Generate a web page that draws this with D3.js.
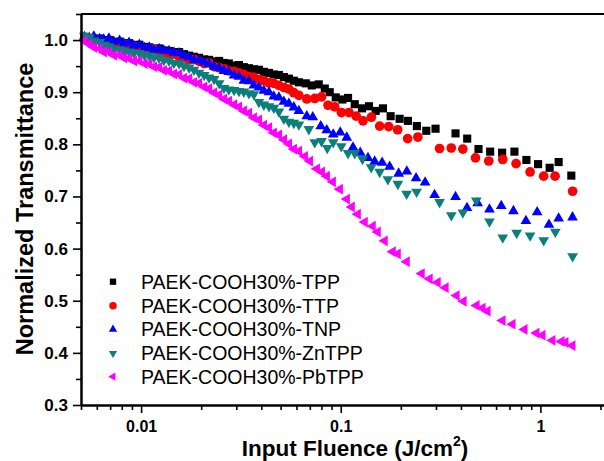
<!DOCTYPE html>
<html>
<head>
<meta charset="utf-8">
<script src="https://cdn.jsdelivr.net/npm/d3@7/dist/d3.min.js"></script>
<style>
  html, body { margin: 0; padding: 0; background: #fff; }
  svg { display: block; }
  text { font-family: Arial, "Liberation Sans", sans-serif; }
</style>
</head>
<body>
<svg id="chart" width="604" height="461"></svg>
<script>
// ---------- DATA ----------
const seriesNames = ["PAEK-COOH30%-TPP", "PAEK-COOH30%-TTP", "PAEK-COOH30%-TNP", "PAEK-COOH30%-ZnTPP", "PAEK-COOH30%-PbTPP"];
const seriesColors = ["#000000", "#ff0000", "#0000ff", "#0d7f7a", "#ff00ff"];

const xMajorTicks = [0.01, 0.1, 1];
const xTickLabels = ["0.01", "0.1", "1"];
const yMajorTicks = [0.3, 0.4, 0.5, 0.6, 0.7, 0.8, 0.9, 1.0];
const yTickLabels = ["0.3", "0.4", "0.5", "0.6", "0.7", "0.8", "0.9", "1.0"];

// low-fluence region (shared fluence values, J/cm2)
const fluenceLow = [0.0052, 0.0055, 0.0058, 0.0062, 0.0065, 0.0069, 0.0073, 0.0078, 0.0082, 0.0087,
  0.0092, 0.0098, 0.0104, 0.0110, 0.0116, 0.0123, 0.0130, 0.0138, 0.0146, 0.0155,
  0.0164, 0.0174, 0.0184, 0.0195, 0.0207, 0.0219, 0.0232, 0.0246, 0.0260, 0.0275,
  0.0292, 0.0309, 0.0327, 0.0347, 0.0367, 0.0389, 0.0412, 0.0437, 0.0462, 0.0490,
  0.0519, 0.0550, 0.0582, 0.0617];

const tppLow = [1.006, 1.004, 1.002, 1.003, 0.999, 1.000, 0.996, 0.997, 0.993, 0.994,
  0.990, 0.991, 0.987, 0.986, 0.983, 0.984, 0.980, 0.979, 0.976, 0.977,
  0.973, 0.970, 0.968, 0.966, 0.963, 0.962, 0.959, 0.960, 0.956, 0.955,
  0.951, 0.952, 0.948, 0.946, 0.944, 0.943, 0.939, 0.937, 0.934, 0.933,
  0.929, 0.926, 0.922, 0.919];
const ttpLow = [1.002, 1.001, 0.999, 1.000, 0.995, 0.996, 0.993, 0.991, 0.992, 0.987,
  0.988, 0.985, 0.983, 0.981, 0.982, 0.978, 0.976, 0.972, 0.973, 0.968,
  0.966, 0.962, 0.963, 0.959, 0.955, 0.956, 0.949, 0.947, 0.945, 0.941,
  0.940, 0.937, 0.934, 0.930, 0.929, 0.924, 0.922, 0.918, 0.917, 0.913,
  0.909, 0.906, 0.899, 0.894];
const tnpLow = [1.006, 1.004, 1.007, 1.002, 1.001, 1.003, 0.997, 0.999, 0.993, 0.995,
  0.989, 0.991, 0.985, 0.986, 0.981, 0.983, 0.980, 0.979, 0.976, 0.975,
  0.970, 0.967, 0.962, 0.961, 0.957, 0.954, 0.949, 0.946, 0.941, 0.939,
  0.932, 0.930, 0.922, 0.921, 0.913, 0.909, 0.903, 0.900, 0.892, 0.890,
  0.882, 0.878, 0.871, 0.864];
const zntppLow = [1.008, 1.005, 0.999, 0.996, 0.991, 0.988, 0.983, 0.982, 0.979, 0.978,
  0.975, 0.975, 0.971, 0.970, 0.967, 0.966, 0.961, 0.960, 0.956, 0.955,
  0.950, 0.947, 0.943, 0.937, 0.933, 0.928, 0.925, 0.917, 0.908, 0.905,
  0.904, 0.902, 0.901, 0.898, 0.896, 0.881, 0.876, 0.873, 0.870, 0.863,
  0.849, 0.843, 0.841, 0.838];
const pbtppLow = [0.999, 0.992, 0.986, 0.984, 0.977, 0.977, 0.971, 0.971, 0.966, 0.965,
  0.960, 0.960, 0.955, 0.954, 0.949, 0.948, 0.942, 0.941, 0.935, 0.934,
  0.927, 0.926, 0.919, 0.917, 0.910, 0.907, 0.899, 0.895, 0.887, 0.883,
  0.876, 0.872, 0.864, 0.860, 0.851, 0.847, 0.837, 0.832, 0.822, 0.818,
  0.809, 0.801, 0.791, 0.787];

// high-fluence region: [fluence, transmittance]
const tppHigh = [[0.0668,0.917],[0.0716,0.913],[0.0776,0.915],[0.0832,0.907],[0.0881,0.900],[0.0944,0.890],
  [0.102,0.886],[0.1088,0.889],[0.1175,0.877],[0.1278,0.869],[0.1385,0.873],[0.1496,0.864],[0.1627,0.869],
  [0.1778,0.854],[0.1972,0.849],[0.217,0.845],[0.2406,0.835],[0.2683,0.826],[0.2985,0.830],[0.3758,0.821],
  [0.43,0.811],[0.4898,0.791],[0.5603,0.786],[0.6434,0.784],[0.7413,0.786],[0.8511,0.770],[0.9739,0.762],
  [1.113,0.755],[1.2346,0.766],[1.4289,0.740]];
const ttpHigh = [[0.0676,0.887],[0.0741,0.888],[0.0801,0.891],[0.0864,0.875],[0.0933,0.872],[0.1008,0.861],
  [0.1100,0.861],[0.1195,0.854],[0.1293,0.845],[0.1424,0.852],[0.1567,0.835],[0.1738,0.834],[0.1928,0.828],
  [0.2163,0.811],[0.2434,0.814],[0.3126,0.792],[0.3577,0.793],[0.4089,0.791],[0.4732,0.774],[0.5514,0.768],
  [0.6479,0.771],[0.7556,0.763],[0.8882,0.747],[1.0387,0.739],[1.1845,0.739],[1.4505,0.710]];
const tnpHigh = [[0.0676,0.854],[0.0724,0.852],[0.0794,0.835],[0.0851,0.827],[0.0917,0.819],[0.0994,0.823],
  [0.1072,0.813],[0.1152,0.794],[0.1252,0.784],[0.1369,0.774],[0.1479,0.767],[0.1612,0.765],[0.1758,0.757],
  [0.1950,0.744],[0.2143,0.748],[0.2384,0.735],[0.2646,0.727],[0.2951,0.703],[0.3758,0.699],[0.4290,0.678],
  [0.4853,0.687],[0.5559,0.675],[0.6368,0.682],[0.7328,0.672],[0.8465,0.653],[0.9638,0.670],[1.1041,0.646],
  [1.2346,0.658],[1.4488,0.660]];
const zntppHigh = [[0.0692,0.829],[0.0741,0.804],[0.0801,0.806],[0.0856,0.793],[0.0917,0.804],[0.1006,0.796],
  [0.1088,0.783],[0.1175,0.783],[0.1285,0.772],[0.1421,0.756],[0.1567,0.747],[0.1722,0.733],[0.1932,0.724],
  [0.2138,0.705],[0.2399,0.709],[0.3126,0.689],[0.3581,0.664],[0.4089,0.669],[0.4775,0.692],[0.5559,0.652],
  [0.6479,0.621],[0.7609,0.630],[0.8882,0.625],[1.0387,0.616],[1.1885,0.632],[1.4505,0.585]];
const pbtppHigh = [[0.0661,0.777],[0.0700,0.768],[0.0759,0.753],[0.0804,0.747],[0.0851,0.739],[0.0912,0.728],
  [0.0989,0.714],[0.1072,0.695],[0.1135,0.680],[0.1216,0.666],[0.1318,0.651],[0.1445,0.643],[0.1531,0.632],
  [0.1660,0.615],[0.1820,0.594],[0.1928,0.590],[0.2138,0.575],[0.2541,0.552],[0.2786,0.542],[0.3055,0.535],
  [0.3350,0.525],[0.3802,0.510],[0.4121,0.499],[0.4786,0.491],[0.5129,0.486],[0.5433,0.480],[0.6457,0.462],
  [0.7244,0.455],[0.8318,0.445],[0.9550,0.438],[1.0233,0.434],[1.1482,0.424],[1.2735,0.422],[1.3335,0.420],
  [1.4454,0.414]];

const lowSets = [tppLow, ttpLow, tnpLow, zntppLow, pbtppLow];
const highSets = [tppHigh, ttpHigh, tnpHigh, zntppHigh, pbtppHigh];

// ---------- CHART ----------
const svg = d3.select("#chart");
const mLeft = 81, mRight = 604.7, mTop = 14, mBottom = 405;

const x = d3.scaleLog().domain([0.005, 2.1]).range([mLeft, mRight]);
const y = d3.scaleLinear().domain([0.3, 1.05]).range([mBottom, mTop]);

const symbolTypes = [d3.symbolSquare, d3.symbolCircle, d3.symbolTriangle, d3.symbolTriangle, d3.symbolTriangle];
const symbolSizes = [66, 74, 50, 50, 50];
const legendSizes = [40, 44, 30, 30, 30];
const rotations = [0, 0, 0, 180, -90];

// points
seriesNames.forEach((name, i) => {
  const pts = fluenceLow.map((f, k) => [f, lowSets[i][k]]).concat(highSets[i]);
  const path = d3.symbol().type(symbolTypes[i]).size(symbolSizes[i])();
  svg.append("g").attr("class", "series")
    .selectAll("path").data(pts).join("path")
    .attr("d", path)
    .attr("transform", d => `translate(${x(d[0])},${y(d[1])}) rotate(${rotations[i]})`)
    .attr("fill", seriesColors[i]);
});

// axes
const xMinor = [];
[0.001, 0.01, 0.1, 1].forEach(dec => { for (let m = 2; m <= 9; m++) { const v = dec * m; if (v >= 0.005 && v <= 2.1) xMinor.push(+v.toPrecision(3)); } });
const yMinor = [0.35, 0.45, 0.55, 0.65, 0.75, 0.85, 0.95, 1.05];

const axisStyle = g => {
  g.selectAll(".domain").attr("stroke", "#000").attr("stroke-width", 2);
  g.selectAll(".tick line").attr("stroke", "#000").attr("stroke-width", 1.6);
};

svg.append("g").attr("transform", `translate(0,${mBottom})`)
  .call(d3.axisBottom(x).tickValues(xMinor).tickSize(5).tickSizeOuter(0).tickFormat(""))
  .call(axisStyle);
const gx = svg.append("g").attr("transform", `translate(0,${mBottom})`)
  .call(d3.axisBottom(x).tickValues(xMajorTicks).tickSize(8).tickSizeOuter(0)
    .tickFormat((d, i) => xTickLabels[i]).tickPadding(8))
  .call(axisStyle);
gx.selectAll("text").attr("font-size", 16).attr("font-weight", "bold").attr("fill", "#000")
  .attr("font-family", "Arial, 'Liberation Sans', sans-serif");

svg.append("g").attr("transform", `translate(${mLeft},0)`)
  .call(d3.axisLeft(y).tickValues(yMinor).tickSize(5).tickSizeOuter(0).tickFormat(""))
  .call(axisStyle);
const gy = svg.append("g").attr("transform", `translate(${mLeft},0)`)
  .call(d3.axisLeft(y).tickValues(yMajorTicks).tickSize(8).tickSizeOuter(0)
    .tickFormat((d, i) => yTickLabels[i]).tickPadding(5))
  .call(axisStyle);
gy.selectAll("text").attr("font-size", 17).attr("font-weight", "bold").attr("fill", "#000")
  .attr("font-family", "Arial, 'Liberation Sans', sans-serif");

// top frame
svg.append("line").attr("x1", mLeft).attr("x2", mRight).attr("y1", mTop).attr("y2", mTop)
  .attr("stroke", "#000").attr("stroke-width", 2);

// axis titles
const xt = svg.append("text").attr("x", 355).attr("y", 456).attr("text-anchor", "middle")
  .attr("font-size", 22.5).attr("font-weight", "bold").attr("fill", "#000");
xt.append("tspan").text("Input Fluence (J/cm");
xt.append("tspan").attr("font-size", 14).attr("dy", -10).text("2");
xt.append("tspan").attr("dy", 10).text(")");

svg.append("text").attr("transform", "translate(33,209) rotate(-90)").attr("text-anchor", "middle")
  .attr("font-size", 23.5).attr("font-weight", "bold").attr("fill", "#000")
  .text("Normalized Transmittance");

// legend
const legendRows = [281.7, 305.7, 329.3, 353.3, 376.7];
seriesNames.forEach((name, i) => {
  const g = svg.append("g").attr("transform", `translate(0,${legendRows[i]})`);
  g.append("path").attr("d", d3.symbol().type(symbolTypes[i]).size(legendSizes[i])())
    .attr("transform", `translate(113,0) rotate(${rotations[i]})`).attr("fill", seriesColors[i]);
  g.append("text").attr("x", 141).attr("y", 7).attr("font-size", 19.5).attr("fill", "#000").text(name);
});
</script>
</body>
</html>
